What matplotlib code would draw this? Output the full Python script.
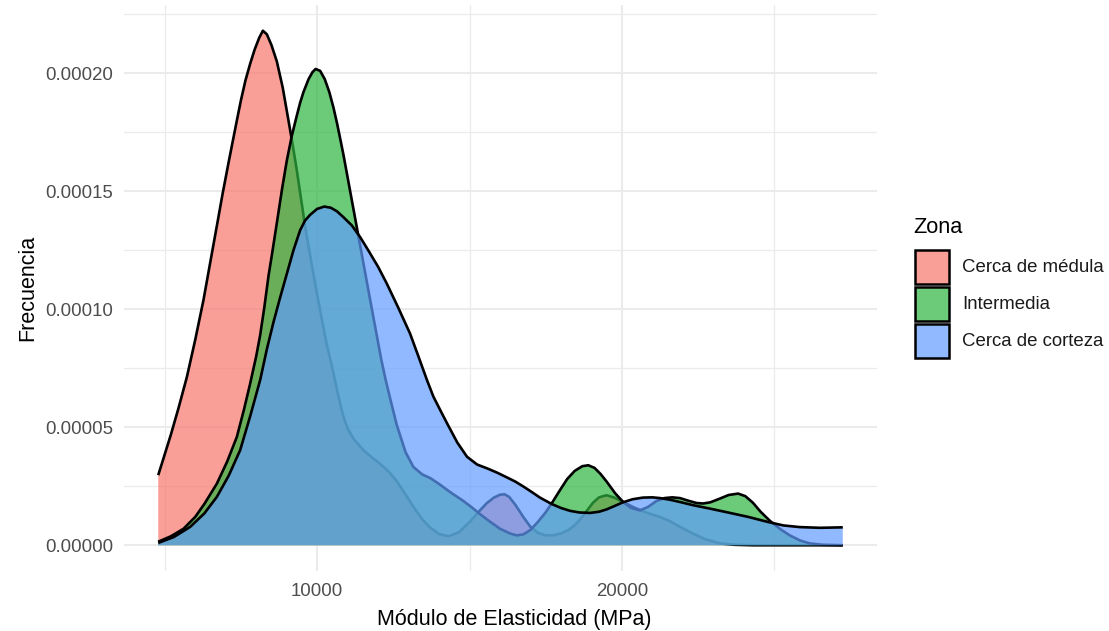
import matplotlib
matplotlib.use("Agg")
import matplotlib.pyplot as plt
import matplotlib.patches as mpatches
from matplotlib.ticker import FixedLocator, FuncFormatter
import numpy as np

plt.rcParams['font.family'] = ['Liberation Sans', 'DejaVu Sans']

# Density estimates of modulus of elasticity (MPa) by zone, values in units of 1e-5
medula_x = [4787, 5000, 5200, 5450, 5727, 6000, 6273, 6546, 6720, 6900, 7100, 7367, 7500, 7650,
            7803, 7950, 8100, 8220, 8350, 8500, 8678, 8870, 9060, 9200, 9333, 9470, 9607, 9760,
            9918, 10098, 10300, 10535, 10700, 10850, 11000, 11200, 11519, 11800, 12066, 12350,
            12612, 12900, 13200, 13450, 13705, 14000, 14305, 14650, 15016, 15300, 15563, 15800,
            16000, 16150, 16300, 16500, 16764, 17000, 17250, 17500, 17750, 18000, 18250, 18450,
            18650, 18842, 19050, 19250, 19498, 19750, 20043, 20400, 20809, 21246, 21574, 21950,
            22339, 22750, 23213, 23700, 24300, 27246]
medula_y = [2.97, 3.85, 4.68, 5.8, 7.13, 8.7, 10.4, 12.36, 13.6, 14.9, 16.25, 18.0, 18.85, 19.7,
            20.4, 21.0, 21.5, 21.8, 21.65, 21.2, 20.5, 19.4, 18.0, 16.95, 15.89, 14.7, 13.5, 12.35,
            11.2, 9.95, 8.6, 7.3, 6.3, 5.5, 4.95, 4.5, 4.03, 3.72, 3.45, 3.12,
            2.72, 2.15, 1.55, 1.1, 0.75, 0.48, 0.38, 0.55, 1.0, 1.42, 1.78, 2.02,
            2.14, 2.16, 2.05, 1.72, 1.2, 0.78, 0.52, 0.42, 0.42, 0.5, 0.65, 0.85,
            1.12, 1.45, 1.8, 2.03, 2.12, 2.02, 1.83, 1.6, 1.38, 1.2, 1.02, 0.75,
            0.49, 0.25, 0.08, 0.02, 0.0, 0.0]

intermedia_x = [4787, 5200, 5617, 6000, 6300, 6710, 7050, 7366, 7600, 7803, 8000, 8131, 8270, 8404,
                8540, 8678, 8850, 9006, 9170, 9333, 9443, 9552, 9720, 9850, 9950, 10100, 10250,
                10400, 10535, 10650, 10754, 10863, 11020, 11191, 11355, 11519, 11740, 11956, 12100,
                12250, 12400, 12612, 12900, 13158, 13450, 13705, 14000, 14400, 14797, 15100, 15344,
                15672, 16000, 16328, 16550, 16765, 17000, 17250, 17500, 17694, 17950, 18200, 18450,
                18700, 18896, 19100, 19300, 19498, 19780, 20043, 20300, 20590, 20850, 21137, 21400,
                21650, 21900, 22200, 22450, 22665, 22900, 23200, 23500, 23814, 24050, 24300, 24550,
                24852, 25200, 25508, 25850, 26164, 26600, 27246]
intermedia_y = [0.15, 0.38, 0.7, 1.2, 1.75, 2.61, 3.55, 4.59, 5.75, 6.85, 8.0, 8.9, 10.1, 11.4,
                12.5, 13.65, 15.1, 16.3, 17.35, 18.2, 18.75, 19.2, 19.75, 20.05, 20.18, 20.1, 19.75,
                19.2, 18.55, 17.9, 17.25, 16.55, 15.45, 14.25, 13.1, 11.95, 10.4, 8.9, 7.9,
                7.0, 6.2, 5.1, 3.95, 3.32, 3.0, 2.85, 2.6, 2.22, 1.88, 1.58, 1.32,
                1.0, 0.7, 0.5, 0.42, 0.46, 0.65, 1.0, 1.4, 1.77, 2.3, 2.8, 3.15,
                3.35, 3.39, 3.28, 3.02, 2.7, 2.2, 1.83, 1.58, 1.48, 1.62, 1.88, 2.0,
                2.03, 2.0, 1.88, 1.79, 1.77, 1.82, 1.97, 2.13, 2.19, 2.08, 1.8, 1.42,
                1.04, 0.68, 0.42, 0.2, 0.08, 0.02, 0.0]

corteza_x = [4787, 5300, 5836, 6300, 6710, 7100, 7475, 7800, 8131, 8350, 8568, 8787, 9006, 9224,
             9443, 9600, 9770, 10000, 10235, 10450, 10650, 10863, 11140, 11410, 11700, 12000,
             12285, 12650, 13049, 13330, 13607, 13814, 14050, 14262, 14600, 14918, 15250, 15574,
             15900, 16219, 16500, 16754, 17050, 17311, 17694, 18000, 18295, 18600, 18951, 19250,
             19498, 19750, 20033, 20350, 20689, 21000, 21246, 21574, 21950, 22328, 22900, 23443,
             24150, 24600, 24852, 25300, 25836, 26500, 27246]
corteza_y = [0.1, 0.35, 0.78, 1.35, 2.05, 2.95, 4.03, 5.45, 7.0, 8.3, 9.45, 10.5, 11.5, 12.5,
             13.35, 13.75, 14.0, 14.25, 14.35, 14.3, 14.15, 13.9, 13.55, 13.06, 12.45, 11.8,
             11.09, 10.1, 8.97, 7.98, 6.99, 6.3, 5.7, 5.17, 4.35, 3.75, 3.42, 3.26,
             3.08, 2.88, 2.7, 2.5, 2.25, 2.02, 1.75, 1.58, 1.46, 1.39, 1.37, 1.42,
             1.52, 1.66, 1.82, 1.95, 2.02, 2.03, 2.0, 1.93, 1.82, 1.70, 1.55, 1.40,
             1.2, 1.05, 0.97, 0.84, 0.77, 0.74, 0.76]

zonas = ["Cerca de médula", "Intermedia", "Cerca de corteza"]
colores = ["#F8766D", "#2EB540", "#619CFF"]
alpha = 0.7
scale = 1e-5

series = [(medula_x, medula_y), (intermedia_x, intermedia_y), (corteza_x, corteza_y)]

W, H = 1109, 631
fig = plt.figure(figsize=(W / 100, H / 100), dpi=100)
ax = fig.add_axes([124 / W, (H - 571) / H, 753 / W, 566 / H])

for i, ((xs, ys), col) in enumerate(zip(series, colores)):
    xs = np.asarray(xs, float)
    ys = np.asarray(ys, float) * scale
    ax.fill_between(xs, 0, ys, facecolor=col, alpha=alpha, lw=0, zorder=2 + 2 * i)
    ax.plot(xs, ys, color="black", lw=1.9, zorder=3 + 2 * i,
            solid_capstyle="butt", solid_joinstyle="round")

# 5% expansion on both axes
all_x = np.concatenate([np.asarray(s[0], float) for s in series])
ymax = max(max(s[1]) for s in series) * scale
xmin, xmax = all_x.min(), all_x.max()
dx = (xmax - xmin) * 0.05
ax.set_xlim(xmin - dx, xmax + dx)
ax.set_ylim(-ymax * 0.05, ymax * 1.05)

ax.xaxis.set_major_locator(FixedLocator([10000, 20000]))
ax.xaxis.set_minor_locator(FixedLocator([5000, 15000, 25000]))
ax.yaxis.set_major_locator(FixedLocator([0, 5e-5, 10e-5, 15e-5, 20e-5]))
ax.yaxis.set_minor_locator(FixedLocator([2.5e-5, 7.5e-5, 12.5e-5, 17.5e-5, 22.5e-5]))
ax.yaxis.set_major_formatter(FuncFormatter(lambda v, p: f"{v:.5f}"))
ax.xaxis.set_major_formatter(FuncFormatter(lambda v, p: f"{v:.0f}"))

ax.grid(which="major", color="#EBEBEB", lw=1.5, zorder=0)
ax.grid(which="minor", color="#EBEBEB", lw=0.9, zorder=0)
ax.set_axisbelow(True)
for sp in ax.spines.values():
    sp.set_visible(False)
ax.tick_params(which="both", length=0)
ax.tick_params(axis="y", labelsize=13.4, labelcolor="#4D4D4D", pad=8)
ax.tick_params(axis="x", labelsize=13.4, labelcolor="#4D4D4D", pad=9)

ax.set_xlabel("Módulo de Elasticidad (MPa)", fontsize=15.5, color="black", labelpad=6)
ax.xaxis.label.set_x(0.518)
ax.set_ylabel("Frecuencia", fontsize=15.5, color="black", labelpad=4.5)

# Legend drawn as keys and labels in figure pixels
fig.text(913 / W, 1 - 228 / H, "Zona", fontsize=15.7, ha="left", va="center", color="black")
key = 34
for i, (lab, col) in enumerate(zip(zonas, colores)):
    top = 250 + i * 37
    rgba = matplotlib.colors.to_rgba(col, alpha)
    rect = mpatches.Rectangle((915 / W, 1 - (top + key) / H), key / W, key / H,
                              transform=fig.transFigure, facecolor=rgba,
                              edgecolor="black", lw=1.8)
    fig.add_artist(rect)
    fig.text(962 / W, 1 - (top + key / 2) / H, lab, fontsize=13.4, ha="left", va="center",
             color="#1A1A1A")

fig.savefig("out.png", dpi=100)
